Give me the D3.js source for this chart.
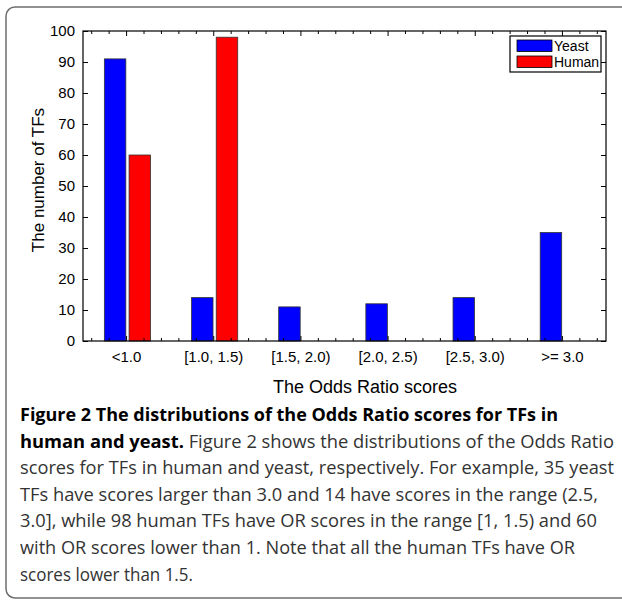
<!DOCTYPE html>
<html>
<head>
<meta charset="utf-8">
<script src="https://cdn.jsdelivr.net/npm/d3@7"></script>
<style>
  body { margin: 0; background: #fff; }
  svg { display: block; }
</style>
</head>
<body>
<svg id="chart" width="622" height="602"></svg>
<script>
'use strict';

// data
var categories = ['<1.0', '[1.0, 1.5)', '[1.5, 2.0)', '[2.0, 2.5)', '[2.5, 3.0)', '>= 3.0'];
var seriesNames = ['Yeast', 'Human'];
var yeastCounts = [91, 14, 11, 12, 14, 35];
var humanCounts = [60, 98, 0, 0, 0, 0];
var yTicks = [0, 10, 20, 30, 40, 50, 60, 70, 80, 90, 100];
var seriesColors = ['#0000ff', '#ff0000'];

var captionLines = [
    [{b: true, t: 'Figure 2 The distributions of the Odds Ratio scores for TFs in'}],
    [{b: true, t: 'human and yeast.'}, {b: false, t: ' Figure 2 shows the distributions of the Odds Ratio'}],
    [{b: false, t: 'scores for TFs in human and yeast, respectively. For example, 35 yeast'}],
    [{b: false, t: 'TFs have scores larger than 3.0 and 14 have scores in the range (2.5,'}],
    [{b: false, t: '3.0], while 98 human TFs have OR scores in the range [1, 1.5) and 60'}],
    [{b: false, t: 'with OR scores lower than 1. Note that all the human TFs have OR'}],
    [{b: false, t: 'scores lower than 1.5.'}]
];
var captionWidths = [538, 594, 594, 578, 577, 555, 173];

var svg = d3.select('#chart');
var plot = {left: 83, top: 31, right: 606, bottom: 341};
var axisFont = '"Liberation Sans", Arial, Helvetica, sans-serif';

// outer frame (right side runs off the page)
svg.append('rect')
    .attr('x', 6).attr('y', 7)
    .attr('width', 660).attr('height', 591)
    .attr('rx', 9).attr('ry', 9)
    .attr('fill', 'none')
    .attr('stroke', '#6e6e6e')
    .attr('stroke-width', 1.5);

var x = d3.scaleBand().domain(categories).range([plot.left, plot.right]).padding(0);
var bw = x.bandwidth();
var xSub = d3.scaleBand().domain(seriesNames).range([bw * 0.245, bw * 0.775]).paddingInner(0.13);
var y = d3.scaleLinear().domain([0, 100]).range([plot.bottom, plot.top]);

var rows = categories.map(function(c, i) {
    return {cat: c, values: [yeastCounts[i], humanCounts[i]]};
});

var groups = svg.append('g').selectAll('g')
    .data(rows)
    .enter()
    .append('g')
    .attr('transform', function(d) { return 'translate(' + x(d.cat) + ',0)'; });

groups.selectAll('rect')
    .data(function(d) {
        return d.values.map(function(v, j) { return {name: seriesNames[j], value: v, color: seriesColors[j]}; });
    })
    .enter()
    .append('rect')
    .attr('x', function(d) { return xSub(d.name); })
    .attr('width', xSub.bandwidth())
    .attr('y', function(d) { return y(d.value); })
    .attr('height', function(d) { return y(0) - y(d.value); })
    .attr('fill', function(d) { return d.color; })
    .attr('stroke', '#333')
    .attr('stroke-width', 0.8);

// minor x ticks (matlab style, 4 between major ticks)
var minorX = [];
categories.forEach(function(c) {
    for (var k = -2; k <= 2; k++) {
        if (k !== 0) minorX.push(x(c) + bw / 2 + k * bw / 5);
    }
});
var minor = svg.append('g').attr('stroke', '#000').attr('stroke-width', 1);
minorX.forEach(function(px) {
    if (px <= plot.left || px >= plot.right) return;
    minor.append('line').attr('x1', px).attr('x2', px).attr('y1', plot.bottom).attr('y2', plot.bottom - 3);
    minor.append('line').attr('x1', px).attr('x2', px).attr('y1', plot.top).attr('y2', plot.top + 3);
});

// axes
var xAxis = svg.append('g')
    .attr('transform', 'translate(0,' + plot.bottom + ')')
    .call(d3.axisBottom(x).tickSize(-5).tickSizeOuter(0).tickPadding(10));
var xTop = svg.append('g')
    .attr('transform', 'translate(0,' + plot.top + ')')
    .call(d3.axisTop(x).tickSize(-5).tickSizeOuter(0).tickFormat(''));
var yAxis = svg.append('g')
    .attr('transform', 'translate(' + plot.left + ',0)')
    .call(d3.axisLeft(y).tickValues(yTicks).tickSize(-5).tickSizeOuter(0).tickPadding(8));
var yRight = svg.append('g')
    .attr('transform', 'translate(' + plot.right + ',0)')
    .call(d3.axisRight(y).tickValues(yTicks).tickSize(-5).tickSizeOuter(0).tickFormat(''));

[xAxis, xTop, yAxis, yRight].forEach(function(a) {
    a.select('.domain').remove();
    a.selectAll('line').attr('stroke', '#000');
    a.selectAll('text').attr('fill', '#000').style('font-family', axisFont);
});
xAxis.selectAll('text').style('font-size', '15px');
yAxis.selectAll('text').style('font-size', '15px');

svg.append('rect')
    .attr('x', plot.left).attr('y', plot.top)
    .attr('width', plot.right - plot.left).attr('height', plot.bottom - plot.top)
    .attr('fill', 'none').attr('stroke', '#000').attr('stroke-width', 1.2);

// axis titles
svg.append('text')
    .attr('x', 365).attr('y', 393)
    .attr('text-anchor', 'middle')
    .style('font-family', axisFont).style('font-size', '18px')
    .text('The Odds Ratio scores');
svg.append('text')
    .attr('transform', 'translate(44,180) rotate(-90)')
    .attr('text-anchor', 'middle')
    .style('font-family', axisFont).style('font-size', '17px')
    .text('The number of TFs');

// legend
var legend = svg.append('g').attr('transform', 'translate(510,36)');
legend.append('rect')
    .attr('width', 91).attr('height', 36)
    .attr('fill', '#fff').attr('stroke', '#000').attr('stroke-width', 1.2);
var items = legend.selectAll('g.item')
    .data(seriesNames)
    .enter()
    .append('g')
    .attr('class', 'item')
    .attr('transform', function(d, i) { return 'translate(7,' + (4 + i * 16) + ')'; });
items.append('rect')
    .attr('width', 35).attr('height', 11.5)
    .attr('fill', function(d, i) { return seriesColors[i]; })
    .attr('stroke', '#000').attr('stroke-width', 0.8);
items.append('text')
    .attr('x', 37).attr('y', 11)
    .style('font-family', axisFont).style('font-size', '14px')
    .text(function(d) { return d; });

// caption
var caption = svg.append('g')
    .style('font-family', '"Open Sans", "Noto Sans", sans-serif')
    .style('font-size', '18px')
    .attr('fill', '#222');
captionLines.forEach(function(parts, i) {
    var t = caption.append('text')
        .attr('x', 20)
        .attr('y', 421 + i * 26.6)
        .attr('textLength', captionWidths[i])
        .attr('lengthAdjust', 'spacingAndGlyphs');
    parts.forEach(function(p) {
        t.append('tspan')
            .style('font-weight', p.b ? 'bold' : 'normal')
            .attr('fill', p.b ? '#000' : '#333')
            .text(p.t);
    });
});
</script>
</body>
</html>
